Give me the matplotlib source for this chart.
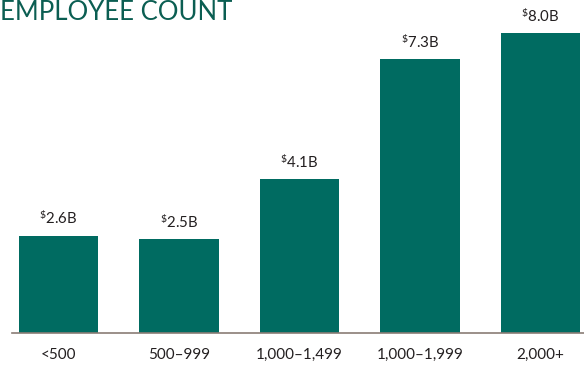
import matplotlib
matplotlib.use('Agg')
import matplotlib.pyplot as plt

plt.rcParams['font.family'] = ['Lato', 'DejaVu Sans']
plt.rcParams['mathtext.default'] = 'regular'

# 各员工规模区间的金额（十亿美元）
categories = ['<500', '500\u2013999', '1,000\u20131,499', '1,000\u20131,999', '2,000+']
values = [2.6, 2.5, 4.1, 7.3, 8.0]
title = 'EMPLOYEE COUNT'

bar_color = '#006b61'
text_color = '#231f20'

fig = plt.figure(figsize=(5.84, 3.66), dpi=100)
ax = fig.add_axes([12 / 584, 33 / 366, 572 / 584, 333 / 366])

x = list(range(len(categories)))
ax.bar(x, values, width=0.656, color=bar_color, zorder=2)

ax.set_xlim(-0.386, 4.361)
ax.set_ylim(0, 8.88)

# 柱顶数值标签，美元符号为上标
for xi, v in zip(x, values):
    ax.annotate(r'$^{\$}$' + f'{v:.1f}B', (xi, v), xytext=(0, 6), textcoords='offset points',
                ha='center', va='bottom', fontsize=10.8, color=text_color)

ax.set_xticks(x)
ax.set_xticklabels(categories, fontsize=11, color=text_color)
ax.tick_params(axis='x', length=0, pad=11)
ax.set_yticks([])

for s in ['top', 'right', 'left']:
    ax.spines[s].set_visible(False)
ax.spines['bottom'].set_color('#8a7d75')
ax.spines['bottom'].set_linewidth(1.2)

fig.text(0.0, 1 - 0 / 366, title, ha='left', va='top', fontsize=18.5,
         color='#0b5e52')

fig.savefig('out.png', dpi=100)
